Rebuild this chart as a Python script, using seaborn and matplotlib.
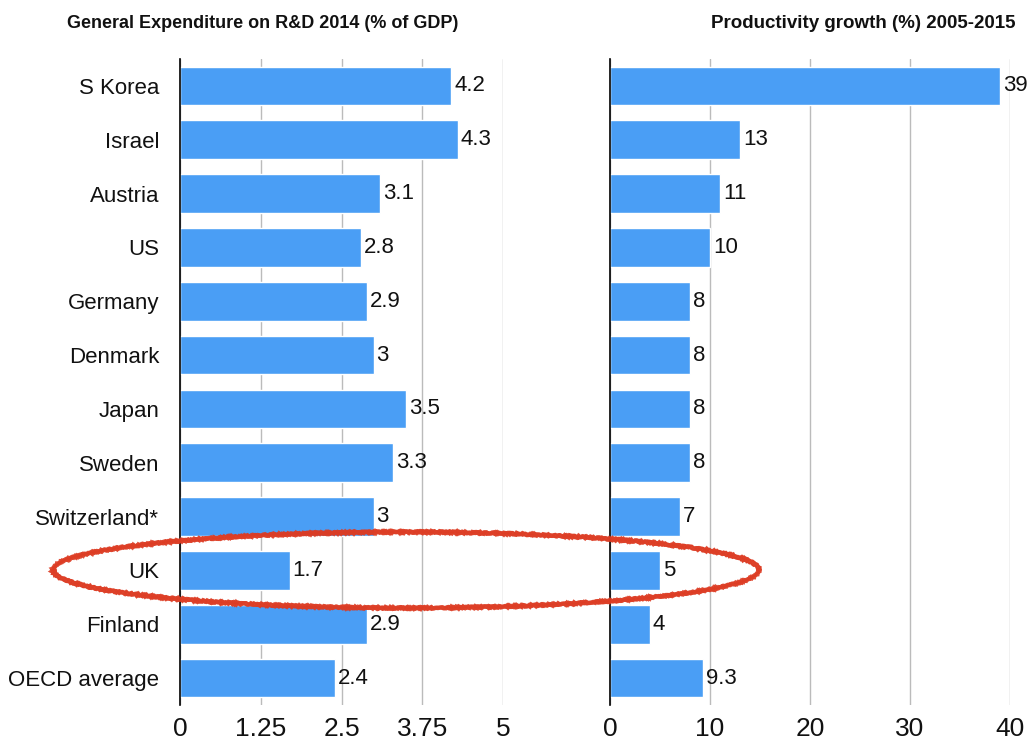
import matplotlib
matplotlib.use("Agg")
import matplotlib.pyplot as plt
import seaborn as sns
import pandas as pd
from matplotlib.patches import Ellipse

countries = ["S Korea", "Israel", "Austria", "US", "Germany", "Denmark", "Japan",
             "Sweden", "Switzerland*", "UK", "Finland", "OECD average"]
rd_spend = [4.2, 4.3, 3.1, 2.8, 2.9, 3, 3.5, 3.3, 3, 1.7, 2.9, 2.4]
productivity = [39, 13, 11, 10, 8, 8, 8, 8, 7, 5, 4, 9.3]
left_ticks = [0, 1.25, 2.5, 3.75, 5]
left_tick_labels = ["0", "1.25", "2.5", "3.75", "5"]
right_ticks = [0, 10, 20, 30, 40]
right_tick_labels = ["0", "10", "20", "30", "40"]
left_title = "General Expenditure on R&D 2014 (% of GDP)"
right_title = "Productivity growth (%) 2005-2015"

sns.set_theme(style="white")
plt.rcParams["font.family"] = ["Liberation Sans", "DejaVu Sans"]

df = pd.DataFrame({"country": countries, "rd": rd_spend, "prod": productivity})
bar_color = "#4A9EF5"

W, H = 1030, 749
fig = plt.figure(figsize=(W / 100, H / 100), dpi=100)
bottom = 1 - 705 / H
height = (705 - 59) / H
ax1 = fig.add_axes([180 / W, bottom, (503 - 180) / W, height])
ax2 = fig.add_axes([610 / W, bottom, (1010 - 610) / W, height])

sns.barplot(data=df, y="country", x="rd", orient="h", color=bar_color,
            width=0.72, ax=ax1, saturation=1)
sns.barplot(data=df, y="country", x="prod", orient="h", color=bar_color,
            width=0.72, ax=ax2, saturation=1)

for ax, ticks, labels, vals, lim in [
    (ax1, left_ticks, left_tick_labels, rd_spend, (0, 5)),
    (ax2, right_ticks, right_tick_labels, productivity, (0, 40)),
]:
    ax.set_xlim(*lim)
    ax.set_ylim(11.5, -0.5)
    ax.set_xticks(ticks)
    ax.set_xticklabels(labels, fontsize=19, color="#111111")
    ax.set_xlabel("")
    ax.set_ylabel("")
    ax.grid(axis="x", color="#bbbbbb", linewidth=1)
    ax.set_axisbelow(True)
    for s in ["top", "right", "bottom"]:
        ax.spines[s].set_visible(False)
    ax.spines["left"].set_color("black")
    ax.spines["left"].set_linewidth(1.2)
    ax.spines["left"].set_zorder(5)
    ax.tick_params(axis="x", length=0, pad=9)
    ax.tick_params(axis="y", length=0, pad=15)
    ax.bar_label(ax.containers[0], labels=[f"{v:g}" for v in vals],
                 padding=2, fontsize=16, color="#111111")

ax1.set_yticks(range(len(countries)))
ax1.set_yticklabels(countries, fontsize=16, color="#111111")
ax2.set_yticks(range(len(countries)))
ax2.set_yticklabels([])

fig.text(263 / W, 1 - 24 / H, left_title, ha="center", va="center",
         fontsize=13, fontweight="bold", color="#111111")
fig.text(863 / W, 1 - 24 / H, right_title, ha="center", va="center",
         fontsize=13.5, fontweight="bold", color="#111111")

# red hand-drawn ellipse around UK row
for dx, dy, lw, a in [(0, 0, 3.2, 0.9), (1.0, -1.0, 1.6, 0.7), (-1.0, 1.0, 1.6, 0.7)]:
    e = Ellipse(((406 + dx) / W, 1 - (570 + dy) / H), 706 / W, 76 / H,
                transform=fig.transFigure, fill=False, edgecolor="#DD3B22",
                linewidth=lw, alpha=a, zorder=10)
    e.set_sketch_params(scale=0.7, length=2, randomness=2)
    fig.patches.append(e)

fig.savefig("out.png", dpi=100)
